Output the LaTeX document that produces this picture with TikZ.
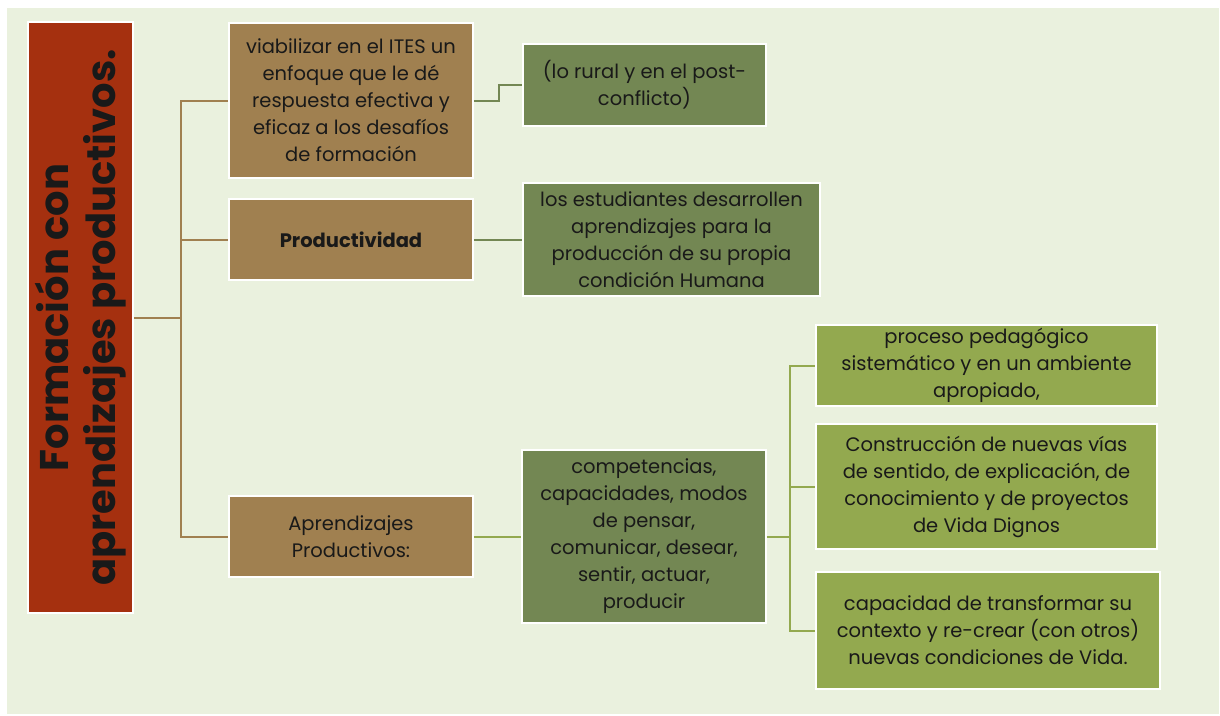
\documentclass[tikz,border=0pt]{standalone}
\usepackage{fontspec}
\setmainfont{Poppins}

\definecolor{panel}{HTML}{EAF1DE}
\definecolor{titlered}{HTML}{A5300F}
\definecolor{brownbox}{HTML}{A08050}
\definecolor{darkolive}{HTML}{738753}
\definecolor{lightolive}{HTML}{93A94F}

\begin{document}
\begin{tikzpicture}[x=1pt,y=-1pt,
    box/.style={draw=white,line width=1.5pt,align=center,inner sep=1pt,
        text=black!90,font=\fontsize{19.5}{27}\selectfont},
    level1/.style={box,fill=brownbox,minimum width=244pt},
    level2/.style={box,fill=darkolive},
    level3/.style={box,fill=lightolive,minimum width=341pt},
    brownline/.style={draw=brownbox,line width=2pt},
    greenline/.style={draw=darkolive,line width=2pt},
    oliveline/.style={draw=lightolive,line width=2pt}]
        % \draw[help lines] (0,0) grid (1220,715);
        \useasboundingbox (0,0) rectangle (1220,715);
        \fill[white] (0,0) rectangle (1220,715);
        \fill[panel] (7,8) rectangle (1219,714);

        \node[box,fill=titlered,rotate=90,minimum width=591pt,minimum height=105pt,
            font=\bfseries\fontsize{40}{47}\selectfont]
            at (80.5,317.5) (title) {Formación con\\aprendizajes productivos.};

        \node[level1,minimum height=155pt] at (351,100.5) (ites)
            {viabilizar en el ITES un\\enfoque que le dé\\respuesta efectiva y\\eficaz a los desafíos\\de formación};
        \node[level1,minimum height=81pt,font=\bfseries\fontsize{19.5}{27}\selectfont]
            at (351,239.5) (prod) {Productividad};
        \node[level1,minimum height=81pt] at (351,536.5) (aprend)
            {Aprendizajes\\Productivos:};

        \node[level2,minimum width=243pt,minimum height=82pt] at (644.5,85) (rural)
            {(lo rural y en el post-\\conflicto)};
        \node[level2,minimum width=297pt,minimum height=113pt] at (671.5,239.5) (estud)
            {los estudiantes desarrollen\\aprendizajes para la\\producción de su propia\\condición Humana};
        \node[level2,minimum width=244pt,minimum height=173pt] at (644,536.5) (compet)
            {competencias,\\capacidades, modos\\de pensar,\\comunicar, desear,\\sentir, actuar,\\producir};

        \node[level3,minimum height=81pt] at (986.5,365.5) (proceso)
            {proceso pedagógico\\sistemático y en un ambiente\\apropiado,};
        \node[level3,minimum height=125pt] at (986.5,486.5) (constr)
            {Construcción de nuevas vías\\de sentido, de explicación, de\\conocimiento y de proyectos\\de Vida Dignos};
        \node[level3,minimum width=344pt,minimum height=117pt] at (988,630.5) (capac)
            {capacidad de transformar su\\contexto y re-crear (con otros)\\nuevas condiciones de Vida.};

        \coordinate (trunk) at (181,317.5);
        \coordinate (fork) at (790,536.5);

        \draw[brownline] (title.south) -- (trunk);
        \draw[brownline] (trunk) |- (ites.west);
        \draw[brownline] (trunk) |- (prod.west);
        \draw[brownline] (trunk) |- (aprend.west);

        \draw[greenline] (ites.east) -- ++(25,0) |- (rural.west);
        \draw[greenline] (prod.east) -- (estud.west);
        \draw[oliveline] (aprend.east) -- (compet.west);

        \draw[oliveline] (compet.east) -- (fork);
        \draw[oliveline] (fork) |- (proceso.west);
        \draw[oliveline] (fork) |- (constr.west);
        \draw[oliveline] (fork) |- (capac.west);

    \end{tikzpicture}
\end{document}
